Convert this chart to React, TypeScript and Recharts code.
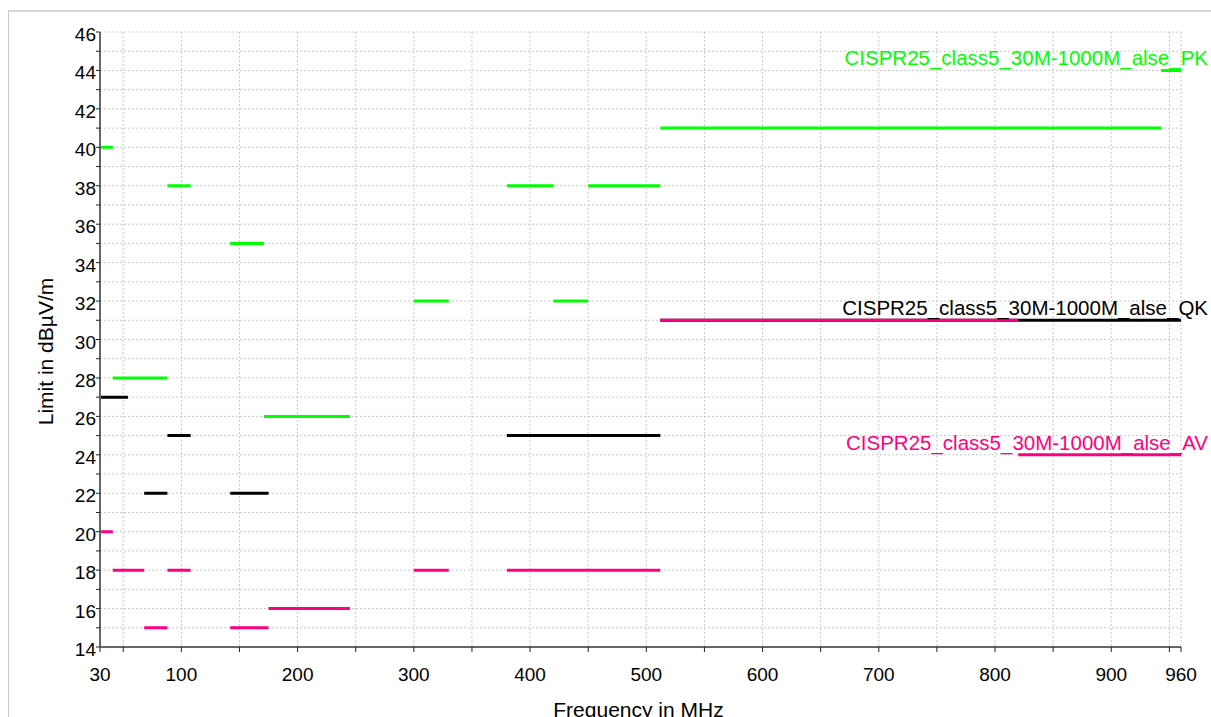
import React from 'react';
import { LineChart, Line, XAxis, YAxis, CartesianGrid } from 'recharts';

const PK_NAME = 'CISPR25_class5_30M-1000M_alse_PK';
const QK_NAME = 'CISPR25_class5_30M-1000M_alse_QK';
const AV_NAME = 'CISPR25_class5_30M-1000M_alse_AV';

const PK_COLOR = '#00ff00';
const QK_COLOR = '#000000';
const AV_COLOR = '#ff0080';

// limit segments, frequency in MHz, limit in dBuV/m
const pkStart = [30, 41, 88, 142, 171, 300, 380, 420, 450, 512, 943];
const pkStop = [41, 88, 108, 171, 245, 330, 420, 450, 512, 943, 960];
const pkLimit = [40, 28, 38, 35, 26, 32, 38, 32, 38, 41, 44];

const qkStart = [30, 68, 88, 142, 380, 512];
const qkStop = [54, 88, 108, 175, 512, 960];
const qkLimit = [27, 22, 25, 22, 25, 31];

const avStart = [30, 41, 68, 88, 142, 175, 300, 380, 512, 820];
const avStop = [41, 68, 88, 108, 175, 245, 330, 512, 820, 960];
const avLimit = [20, 18, 15, 18, 15, 16, 18, 18, 31, 24];

const xTicks = [30, 50, 100, 150, 200, 250, 300, 350, 400, 450, 500, 550, 600, 650, 700, 750, 800, 850, 900, 950, 960];
const xLabels = [30, 100, 200, 300, 400, 500, 600, 700, 800, 900, 960];
const yTicks = [14, 15, 16, 17, 18, 19, 20, 21, 22, 23, 24, 25, 26, 27, 28, 29, 30, 31, 32, 33, 34, 35, 36, 37, 38, 39, 40, 41, 42, 43, 44, 45, 46];
const yLabels = [14, 16, 18, 20, 22, 24, 26, 28, 30, 32, 34, 36, 38, 40, 42, 44, 46];

type Pt = { f: number; v: number | null };

// one point at each end of a segment, a null between segments so the line breaks
const toPoints = (start: number[], stop: number[], limit: number[]): Pt[] =>
  start.flatMap((s, i) => {
    const seg: Pt[] = [{ f: s, v: limit[i] }, { f: stop[i], v: limit[i] }];
    return i < start.length - 1 ? [...seg, { f: stop[i], v: null }] : seg;
  });

const pkData = toPoints(pkStart, pkStop, pkLimit);
const qkData = toPoints(qkStart, qkStop, qkLimit);
const avData = toPoints(avStart, avStop, avLimit);

const endLabel = (name: string, color: string, last: number) => (props: any) => {
  if (props.index !== last) return null;
  return (
    <text x={props.x + 27} y={props.y - 5} textAnchor="end" fill={color} fontSize={20.5}>
      {name}
    </text>
  );
};

const XTick = (props: any) => {
  const { x, y, payload } = props;
  if (!xLabels.includes(payload.value)) return null;
  return (
    <text x={x} y={y} dy={27} textAnchor="middle" fill="#000" fontSize={19}>
      {payload.value}
    </text>
  );
};

const YTick = (props: any) => {
  const { x, y, payload } = props;
  if (!yLabels.includes(payload.value)) return null;
  return (
    <text x={x} y={y} dy={9} textAnchor="end" fill="#000" fontSize={19}>
      {payload.value}
    </text>
  );
};

export default function App() {
  return (
    <div
      style={{
        position: 'absolute',
        left: 8,
        top: 10,
        width: 1203,
        height: 707,
        borderTop: '2px solid #d8d8d8',
        borderLeft: '1px solid #c8c8c8',
        boxSizing: 'border-box',
        fontFamily: '"Liberation Sans", Arial, sans-serif',
      }}
    >
      <style>{'html,body{margin:0;overflow:hidden}'}</style>
      <LineChart width={1202} height={705} margin={{ top: 20, right: 30, bottom: 0, left: 0 }}>
        <CartesianGrid stroke="#c8c8c8" strokeDasharray="2 2" />
        <XAxis
          type="number"
          dataKey="f"
          domain={[30, 960]}
          ticks={xTicks}
          interval={0}
          height={70}
          tickSize={5}
          tick={<XTick />}
          axisLine={{ stroke: '#666', strokeWidth: 2 }}
          tickLine={{ stroke: '#222' }}
          label={{
            content: (p: any) => (
              <text
                x={p.viewBox.x + p.viewBox.width / 2 - 2}
                y={p.viewBox.y + 70}
                textAnchor="middle"
                fill="#000"
                fontSize={21}
              >
                Frequency in MHz
              </text>
            ),
          }}
        />
        <YAxis
          type="number"
          domain={[14, 46]}
          ticks={yTicks}
          interval={0}
          width={91}
          tickSize={4}
          tickMargin={0}
          tick={<YTick />}
          axisLine={{ stroke: '#666', strokeWidth: 2 }}
          tickLine={{ stroke: '#222' }}
          label={{
            content: (p: any) => (
              <text
                transform={`translate(44, ${p.viewBox.y + p.viewBox.height / 2 + 12}) rotate(-90)`}
                textAnchor="middle"
                fill="#000"
                fontSize={21}
              >
                Limit in dBµV/m
              </text>
            ),
          }}
        />
        <Line
          data={pkData}
          dataKey="v"
          stroke={PK_COLOR}
          strokeWidth={3}
          dot={false}
          activeDot={false}
          isAnimationActive={false}
          label={endLabel(PK_NAME, PK_COLOR, pkData.length - 1)}
        />
        <Line
          data={qkData}
          dataKey="v"
          stroke={QK_COLOR}
          strokeWidth={3}
          dot={false}
          activeDot={false}
          isAnimationActive={false}
          label={endLabel(QK_NAME, QK_COLOR, qkData.length - 1)}
        />
        <Line
          data={avData}
          dataKey="v"
          stroke={AV_COLOR}
          strokeWidth={3}
          dot={false}
          activeDot={false}
          isAnimationActive={false}
          label={endLabel(AV_NAME, AV_COLOR, avData.length - 1)}
        />
      </LineChart>
    </div>
  );
}
